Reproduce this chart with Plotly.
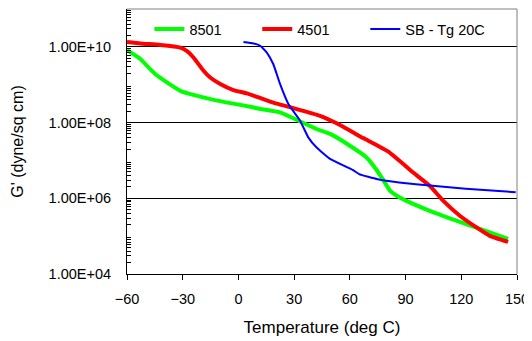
import plotly.graph_objects as go

# Data
temp_8501 = [-60, -52.8, -47.5, -44.8, -38.5, -31.3, -24.2, -13.4, -2.7, 6.3, 11.7, 22.4,
             33.2, 42.1, 49.3, 60, 69, 74.4, 77.6, 81.6, 85.5, 90.2, 103, 117.4, 130, 145.2]
g_8501 = [8.13e9, 4.79e9, 2.57e9, 1.91e9, 1.15e9, 6.9e8, 5.37e8, 3.98e8, 3.16e8, 2.63e8, 2.29e8, 1.86e8,
          1.07e8, 6.76e7, 5.01e7, 2.45e7, 1.20e7, 5.6e6, 3.24e6, 1.6e6, 1.15e6, 8.7e5, 4.68e5, 2.57e5, 1.55e5, 8.5e4]

temp_4501 = [-60, -52.8, -42.1, -31.3, -27.7, -24.2, -18.8, -15.2, -9.8, -2.7, 4.5, 13.4, 20.6,
             29.6, 43.9, 52.9, 67.2, 80.7, 94.1, 103, 110.2, 119.2, 128.2, 135.3, 145.2]
g_4501 = [1.35e10, 1.23e10, 1.12e10, 9.55e9, 7.76e9, 5.25e9, 2.34e9, 1.55e9, 1.05e9, 7.24e8, 5.89e8, 4.17e8, 3.16e8,
          2.40e8, 1.51e8, 9.55e7, 3.89e7, 1.70e7, 4.79e6, 2.14e6, 8.71e5, 3.47e5, 1.70e5, 1.02e5, 7.08e4]

temp_sb = [2.7, 8.1, 11.7, 15.3, 18.8, 22.4, 26.9, 33.2, 37.6, 42.1, 49.3, 61.5, 65, 75, 86.5, 104.5, 122.4, 149.3]
g_sb = [1.35e10, 1.23e10, 1.07e10, 7.08e9, 3.47e9, 1.05e9, 3.09e8, 1.12e8, 4.07e7, 2.19e7, 1.10e7, 5.62e6, 4.37e6,
        3.2e6, 2.63e6, 2.14e6, 1.78e6, 1.45e6]

y_tick_vals = [1e4, 1e6, 1e8, 1e10]
y_tick_text = ["1.00E+04", "1.00E+06", "1.00E+08", "1.00E+10"]
x_tick_vals = [-60, -30, 0, 30, 60, 90, 120, 150]

FONT = "Liberation Sans, Arial, sans-serif"

fig = go.Figure()
fig.add_trace(go.Scatter(x=temp_8501, y=g_8501, name="8501", mode="lines", legend="legend",
                         line=dict(color="#00FF00", width=4, shape="spline", smoothing=0.4)))
fig.add_trace(go.Scatter(x=temp_4501, y=g_4501, name="4501", mode="lines", legend="legend2",
                         line=dict(color="#FF0000", width=4, shape="spline", smoothing=0.4)))
fig.add_trace(go.Scatter(x=temp_sb, y=g_sb, name="SB - Tg 20C", mode="lines", legend="legend3",
                         line=dict(color="#0000FF", width=2, shape="spline", smoothing=0.4)))

minor_vals = [m * 10 ** e for e in range(4, 11) for m in range(2, 10)]


def legend_at(xpos):
    return dict(orientation="h", x=xpos, y=0.985, xanchor="left", yanchor="top",
                bgcolor="rgba(0,0,0,0)", font=dict(size=14.5), itemwidth=30)


# The page body has an 8px default margin, so the figure is 8px smaller each way
fig.update_layout(
    width=524, height=333,
    margin=dict(l=119, r=15, t=1, b=67, autoexpand=False),
    paper_bgcolor="white", plot_bgcolor="white",
    font=dict(family=FONT, size=14.5, color="black"),
    showlegend=True,
    legend=legend_at(0.0574),
    legend2=legend_at(0.334),
    legend3=legend_at(0.611),
    xaxis=dict(range=[-60, 150], tickvals=x_tick_vals, ticks="outside", ticklen=5,
               tickcolor="black", showgrid=False, zeroline=False, automargin=False,
               showline=True, linecolor="black", linewidth=1, mirror=False,
               title=dict(text="Temperature (deg C)", font=dict(size=17), standoff=14),
               ticklabelstandoff=7),
    xaxis2=dict(range=[-60, 150], overlaying="x", anchor="y", side="bottom",
                tickvals=x_tick_vals, ticks="inside", ticklen=5, tickcolor="black",
                showticklabels=False, showgrid=False, zeroline=False, showline=False,
                automargin=False),
    yaxis=dict(type="log", range=[4, 11], tickvals=y_tick_vals, ticktext=y_tick_text,
               ticks="inside", ticklen=6, tickcolor="black", automargin=False,
               showgrid=True, gridcolor="black", gridwidth=1, zeroline=False,
               showline=True, linecolor="black", linewidth=1,
               minor=dict(tickvals=minor_vals, ticks="inside", ticklen=4, tickcolor="black", showgrid=False),
               title=dict(text="G' (dyne/sq cm)", font=dict(size=16), standoff=20),
               ticklabelstandoff=12),
)

# gray top and right plot border
fig.add_shape(type="line", xref="paper", yref="paper", x0=0, x1=1, y0=1, y1=1,
              line=dict(color="#808080", width=1))
fig.add_shape(type="line", xref="paper", yref="paper", x0=1, x1=1, y0=0, y1=1,
              line=dict(color="#808080", width=1))

fig.write_html("out.html")
